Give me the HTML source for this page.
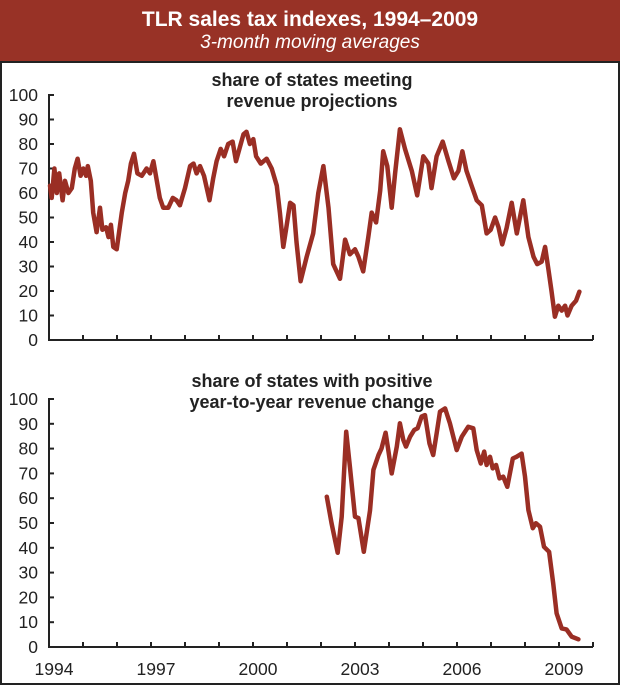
<!DOCTYPE html>
<html><head><meta charset="utf-8"><style>
html,body{margin:0;padding:0;background:#fff}
#wrap{position:relative;width:620px;height:685px;overflow:hidden;font-family:"Liberation Sans",sans-serif}
#band{position:absolute;left:0;top:0;width:620px;height:62px;background:#983226;color:#fff;text-align:center}
#panel{position:absolute;left:0;top:61px;width:616px;height:620px;border:2px solid #222;background:#fff}
</style></head><body>
<div id="wrap">
<div id="band">
<div style="font-weight:bold;font-size:21px;padding-top:8px;line-height:24px">TLR sales tax indexes, 1994–2009</div>
<div style="font-style:italic;font-size:19px;line-height:22px">3-month moving averages</div>
</div>
<div id="panel"></div>
<svg id="svg" width="620" height="685" style="position:absolute;left:0;top:0"></svg>
</div>
<script>
const topYears=[1994.03,1994.08,1994.16,1994.23,1994.30,1994.40,1994.47,1994.57,1994.67,1994.76,1994.84,1994.93,1995.01,1995.09,1995.14,1995.23,1995.30,1995.40,1995.50,1995.57,1995.68,1995.75,1995.82,1995.89,1995.99,1996.14,1996.24,1996.33,1996.41,1996.50,1996.60,1996.73,1996.87,1996.97,1997.07,1997.17,1997.26,1997.36,1997.51,1997.64,1997.75,1997.85,1998.00,1998.15,1998.25,1998.34,1998.44,1998.56,1998.72,1998.83,1998.93,1999.05,1999.15,1999.27,1999.40,1999.50,1999.60,1999.72,1999.81,1999.91,2000.01,2000.09,2000.23,2000.40,2000.55,2000.70,2000.79,2000.89,2000.97,2001.09,2001.19,2001.28,2001.40,2001.58,2001.77,2001.92,2002.07,2002.22,2002.36,2002.56,2002.71,2002.85,2003.00,2003.10,2003.24,2003.39,2003.49,2003.62,2003.74,2003.83,2003.95,2004.08,2004.18,2004.32,2004.47,2004.67,2004.83,2005.01,2005.16,2005.25,2005.40,2005.58,2005.75,2005.91,2006.04,2006.16,2006.28,2006.43,2006.58,2006.73,2006.87,2006.99,2007.12,2007.22,2007.33,2007.46,2007.61,2007.76,2007.95,2008.10,2008.25,2008.36,2008.49,2008.59,2008.69,2008.78,2008.88,2008.98,2009.08,2009.18,2009.25,2009.37,2009.50,2009.60];
const topValues=[63,58,70,60,68,57,65,60,62,70,74,67,70,67,71,65,52,44,54,45,46,42,47,38,37,52,60,65,72,76,68,67,70,68,73,65,58,54,54,58,57,55,62,71,72,68,71,67,57,66,73,78,75,80,81,73,78,84,85,80,82,75,72,74,70,63,52,38,45,56,55,40,24,34,43.5,60,71,54,31,25,41,35,37,34,28,42,52,48,61,77,71,54,68,86,78,69,59,75,72,62,75,81,73,66,69,77,69,63,57,55,43.5,45,50,46,39,45.7,56,43.5,57,42,34,31,32,38,28.6,20,9.5,14,12,14,10,14,16,19.7];
const botYears=[2002.17,2002.31,2002.49,2002.61,2002.74,2002.85,2003.00,2003.10,2003.26,2003.44,2003.54,2003.69,2003.78,2003.90,2003.98,2004.08,2004.23,2004.32,2004.42,2004.50,2004.62,2004.74,2004.84,2004.96,2005.06,2005.19,2005.30,2005.40,2005.50,2005.65,2005.79,2005.99,2006.14,2006.33,2006.48,2006.58,2006.70,2006.80,2006.87,2006.97,2007.05,2007.15,2007.25,2007.36,2007.48,2007.64,2007.75,2007.90,2008.00,2008.10,2008.23,2008.32,2008.44,2008.56,2008.71,2008.83,2008.93,2009.08,2009.22,2009.37,2009.57];
const botValues=[60.6,50,38,52.5,86.8,72.7,52.5,52,38.4,55,71.4,77.4,80,86.4,79.4,70,80.8,90.2,83.5,80.8,84.8,87.5,88.2,92.9,93.5,82,77.4,86,94.9,96.2,90.2,79.4,84.8,88.8,88.2,79.4,74,78.8,73.4,76.7,72,73.4,68,68.7,64.6,76,76.7,78,68.7,55.2,47.9,49.9,48.5,40.4,38.4,25.7,13.6,7.5,7.1,4.2,3.1];
const yTicks=[0,10,20,30,40,50,60,70,80,90,100];
const xLabels=[1994,1997,2000,2003,2006,2009];

const svg=document.getElementById('svg');
const NS='http://www.w3.org/2000/svg';
function mk(tag,attrs,parent){const e=document.createElementNS(NS,tag);for(const k in attrs)e.setAttribute(k,attrs[k]);(parent||svg).appendChild(e);return e;}
const X0=49, PX_YR=34;
function xs(yr){return X0+(yr-1994)*PX_YR;}
function panel(name,y0,y100,years,vals,titles,titleY,showX){
  const ys=v=>y0-(y0-y100)*v/100;
  const g=mk('g',{});
  
  
  titles.forEach((t,i)=>{const tx=mk('text',{x:312,y:titleY+i*21,'text-anchor':'middle','font-size':'18','font-weight':'bold',fill:'#222','font-family':'Liberation Sans, sans-serif'},g);tx.textContent=t;
    
    });
  const ya=mk('path',{d:`M${X0+5} ${y100}H${X0}V${y0}H${xs(2010)}`,fill:'none',stroke:'#222','stroke-width':2},g);
  
  
  yTicks.forEach(v=>{
    mk('line',{x1:X0,x2:X0+5,y1:ys(v),y2:ys(v),stroke:'#222','stroke-width':2},g);
    const t=mk('text',{x:38,y:ys(v)+6,'text-anchor':'end','font-size':'17.5',fill:'#222','font-family':'Liberation Sans, sans-serif'},g);
    t.textContent=v;
    
    
  });
  for(let yr=1995;yr<=2010;yr++) mk('line',{x1:xs(yr),x2:xs(yr),y1:y0,y2:y0-5,stroke:'#222','stroke-width':2},g);
  if(showX) xLabels.forEach(yr=>{
    const t=mk('text',{x:xs(yr)+5,y:y0+28,'text-anchor':'middle','font-size':'17.5',fill:'#222','font-family':'Liberation Sans, sans-serif'},g);
    t.textContent=yr;
    
    
  });
  const d=years.map((yr,i)=>(i?'L':'M')+xs(yr).toFixed(1)+' '+ys(vals[i]).toFixed(1)).join('');
  const p=mk('path',{d:d,fill:'none',stroke:'#9a2e24','stroke-width':4.5,'stroke-linejoin':'round','stroke-linecap':'round'},g);
  
  
}
panel('top-chart',340,95,topYears,topValues,['share of states meeting','revenue projections'],86,false);
panel('bottom-chart',647,399,botYears,botValues,['share of states with positive','year-to-year revenue change'],387,true);
</script>
</body></html>
